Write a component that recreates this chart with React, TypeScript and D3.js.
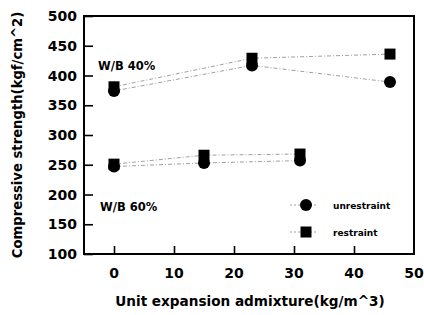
import React, { useRef, useEffect } from 'react';
import * as d3 from 'd3';

// values
const xTicks = [0, 10, 20, 30, 40, 50];
const yTicks = [100, 150, 200, 250, 300, 350, 400, 450, 500];

const wb40X = [0, 23, 46];
const wb40Unrestraint = [374, 417, 389];
const wb40Restraint = [381, 429, 436];

const wb60X = [0, 15, 31];
const wb60Unrestraint = [247, 253, 257];
const wb60Restraint = [251, 266, 268];

const legendItems = [
  { label: 'unrestraint', shape: 'circle' },
  { label: 'restraint', shape: 'square' },
];

const FONT = 'DejaVu Sans, Arial, sans-serif';

const App = () => {
  const svgRef = useRef<SVGSVGElement>(null);

  useEffect(() => {
    if (!svgRef.current) return;
    const svg = d3.select(svgRef.current);
    svg.selectAll('*').remove();

    const left = 84, right = 414, top = 16, bottom = 254;

    const x = d3.scaleLinear().domain([-5, 50]).range([left, right]);
    const y = d3.scaleLinear().domain([100, 500]).range([bottom, top]);

    // frame
    svg.append('rect')
      .attr('x', left).attr('y', top)
      .attr('width', right - left).attr('height', bottom - top)
      .attr('fill', 'none').attr('stroke', '#000').attr('stroke-width', 2);

    // y axis (ticks point inward)
    const yAxis = svg.append('g')
      .attr('transform', `translate(${left},0)`)
      .call(d3.axisRight(y).tickValues(yTicks).tickSize(9).tickFormat(() => ''));
    yAxis.select('.domain').remove();
    yAxis.selectAll('line').attr('stroke-width', 1.6);

    svg.selectAll('.ylab')
      .data(yTicks)
      .enter()
      .append('text')
      .attr('x', left - 7)
      .attr('y', d => y(d) + 5)
      .attr('text-anchor', 'end')
      .style('font-family', FONT).style('font-weight', 'bold').style('font-size', '14px')
      .text(d => d);

    // x axis (ticks point inward)
    const xAxis = svg.append('g')
      .attr('transform', `translate(0,${bottom})`)
      .call(d3.axisTop(x).tickValues(xTicks.slice(0, -1)).tickSize(8).tickFormat(() => ''));
    xAxis.select('.domain').remove();
    xAxis.selectAll('line').attr('stroke-width', 1.6);

    svg.selectAll('.xlab')
      .data(xTicks)
      .enter()
      .append('text')
      .attr('x', d => x(d))
      .attr('y', bottom + 24)
      .attr('text-anchor', 'middle')
      .style('font-family', FONT).style('font-weight', 'bold').style('font-size', '14px')
      .text(d => d);

    // axis titles
    svg.append('text')
      .attr('x', 250).attr('y', 306)
      .attr('text-anchor', 'middle')
      .style('font-family', FONT).style('font-weight', 'bold').style('font-size', '13.6px')
      .text('Unit expansion admixture(kg/m^3)');

    svg.append('text')
      .attr('transform', 'translate(22,135) rotate(-90)')
      .attr('text-anchor', 'middle')
      .style('font-family', FONT).style('font-weight', 'bold').style('font-size', '13.2px')
      .text('Compressive strength(kgf/cm^2)');

    // series
    const line = d3.line<[number, number]>().x(d => x(d[0])).y(d => y(d[1]));
    const series = [
      { xs: wb40X, ys: wb40Unrestraint, shape: 'circle' },
      { xs: wb40X, ys: wb40Restraint, shape: 'square' },
      { xs: wb60X, ys: wb60Unrestraint, shape: 'circle' },
      { xs: wb60X, ys: wb60Restraint, shape: 'square' },
    ];

    series.forEach(s => {
      const pts = s.xs.map((v, i) => [v, s.ys[i]] as [number, number]);
      svg.append('path')
        .datum(pts)
        .attr('fill', 'none')
        .attr('stroke', '#888')
        .attr('stroke-width', 0.8)
        .attr('stroke-dasharray', '4,2,1,2')
        .attr('d', line);
    });

    const drawMarker = (g: any, cx: number, cy: number, shape: string) => {
      if (shape === 'circle') {
        g.append('circle').attr('cx', cx).attr('cy', cy).attr('r', 6).attr('fill', '#000');
      } else {
        g.append('rect').attr('x', cx - 5.5).attr('y', cy - 5.5)
          .attr('width', 11).attr('height', 11).attr('fill', '#000');
      }
    };

    series.forEach(s => {
      s.xs.forEach((v, i) => drawMarker(svg, x(v), y(s.ys[i]), s.shape));
    });

    // group labels
    svg.append('text')
      .attr('x', 98).attr('y', 70)
      .style('font-family', FONT).style('font-weight', 'bold').style('font-size', '11.5px')
      .text('W/B 40%');
    svg.append('text')
      .attr('x', 100).attr('y', 211)
      .style('font-family', FONT).style('font-weight', 'bold').style('font-size', '11.5px')
      .text('W/B 60%');

    // legend
    const legend = svg.append('g').attr('transform', 'translate(306,205)');
    legendItems.forEach((item, i) => {
      const ly = i * 27;
      legend.append('line')
        .attr('x1', -16).attr('x2', 12).attr('y1', ly).attr('y2', ly)
        .attr('stroke', '#888').attr('stroke-width', 0.8).attr('stroke-dasharray', '2,2');
      drawMarker(legend, 0, ly, item.shape);
      legend.append('text')
        .attr('x', 27).attr('y', ly + 3.5)
        .style('font-family', FONT).style('font-weight', 'bold').style('font-size', '9px')
        .text(item.label);
    });
  }, []);

  return (
    <svg ref={svgRef} width={424} height={315}
      style={{ position: 'absolute', left: 0, top: 0, background: '#fff' }} />
  );
};

export default App;
